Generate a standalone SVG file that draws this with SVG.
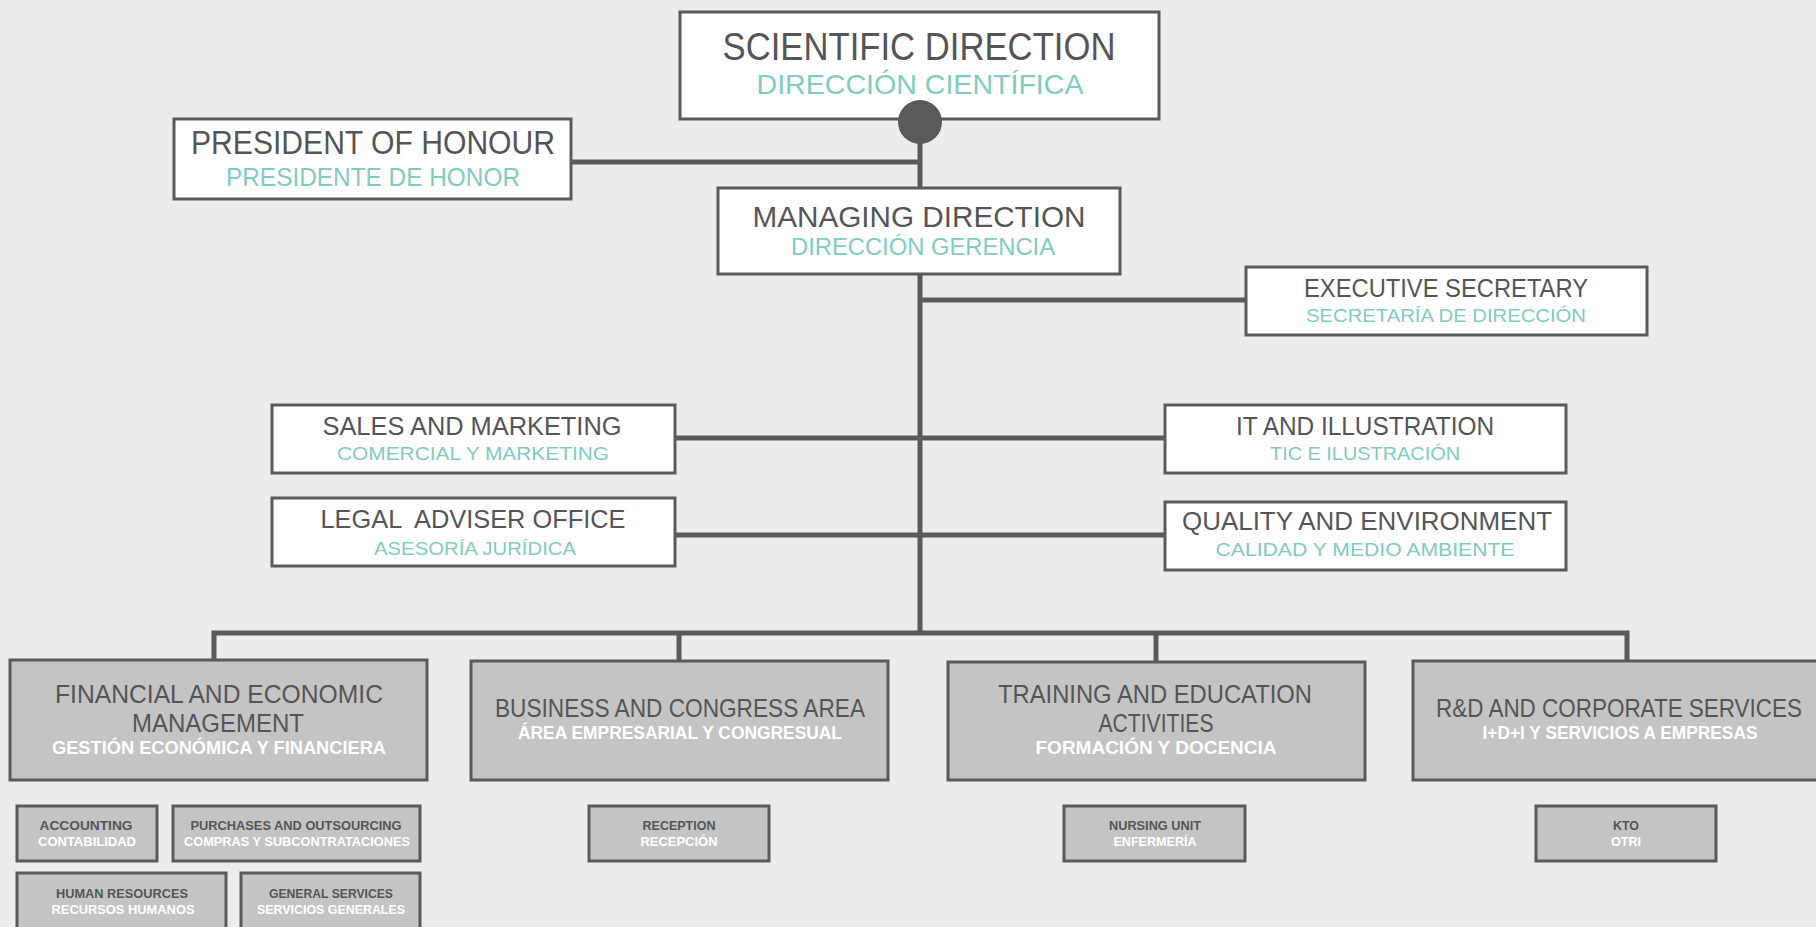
<svg xmlns="http://www.w3.org/2000/svg" width="1816" height="927" viewBox="0 0 1816 927">
<style>
.bg{fill:#ececec}
.wbox{fill:#ffffff;stroke:#5a5a5a;stroke-width:3}
.gbox{fill:#c4c4c4;stroke:#5a5a5a;stroke-width:3}
.con{fill:none;stroke:#5a5a5a;stroke-width:5}
text{font-family:"Liberation Sans",Arial,sans-serif;text-anchor:middle}
.t{fill:#555557}
.s{fill:#80cbc4}
.w{fill:#ffffff}
.b{font-weight:bold}
</style>
<rect class="bg" x="0" y="0" width="1816" height="927"/>
<g id="connectors">
<line class="con" x1="920" y1="120" x2="920" y2="635"/>
<line class="con" x1="571" y1="162" x2="920" y2="162"/>
<line class="con" x1="920" y1="300" x2="1245" y2="300"/>
<line class="con" x1="674" y1="438" x2="1165" y2="438"/>
<line class="con" x1="674" y1="535" x2="1165" y2="535"/>
<polyline class="con" points="214,660 214,633 1627,633 1627,660"/>
<line class="con" x1="679" y1="633" x2="679" y2="661"/>
<line class="con" x1="1156" y1="633" x2="1156" y2="662"/>
</g>
<g id="scientific">
<rect class="wbox" x="680" y="12" width="479" height="107"/>
<text class="t" x="919" y="60" font-size="39" textLength="393" lengthAdjust="spacingAndGlyphs">SCIENTIFIC DIRECTION</text>
<text class="s" x="920" y="94" font-size="28" textLength="327" lengthAdjust="spacingAndGlyphs">DIRECCIÓN CIENTÍFICA</text>
<circle cx="920" cy="122" r="22" fill="#5a5a5a"/>
</g>
<g id="president">
<rect class="wbox" x="174" y="119" width="397" height="80"/>
<text class="t" x="373" y="154" font-size="33" textLength="364" lengthAdjust="spacingAndGlyphs">PRESIDENT OF HONOUR</text>
<text class="s" x="373" y="186" font-size="26" textLength="294" lengthAdjust="spacingAndGlyphs">PRESIDENTE DE HONOR</text>
</g>
<g id="managing">
<rect class="wbox" x="718" y="188" width="402" height="86"/>
<text class="t" x="919" y="227" font-size="30" textLength="333" lengthAdjust="spacingAndGlyphs">MANAGING DIRECTION</text>
<text class="s" x="923" y="255" font-size="23" textLength="264" lengthAdjust="spacingAndGlyphs">DIRECCIÓN GERENCIA</text>
</g>
<g id="executive">
<rect class="wbox" x="1246" y="267" width="401" height="68"/>
<text class="t" x="1446" y="297" font-size="25" textLength="284" lengthAdjust="spacingAndGlyphs">EXECUTIVE SECRETARY</text>
<text class="s" x="1446" y="322" font-size="19" textLength="280" lengthAdjust="spacingAndGlyphs">SECRETARÍA DE DIRECCIÓN</text>
</g>
<g id="sales">
<rect class="wbox" x="272" y="405" width="403" height="68"/>
<text class="t" x="472" y="435" font-size="25" textLength="299" lengthAdjust="spacingAndGlyphs">SALES AND MARKETING</text>
<text class="s" x="473" y="460" font-size="19" textLength="272" lengthAdjust="spacingAndGlyphs">COMERCIAL Y MARKETING</text>
</g>
<g id="it">
<rect class="wbox" x="1165" y="405" width="401" height="68"/>
<text class="t" x="1365" y="435" font-size="25" textLength="258" lengthAdjust="spacingAndGlyphs">IT AND ILLUSTRATION</text>
<text class="s" x="1365" y="460" font-size="19" textLength="190" lengthAdjust="spacingAndGlyphs">TIC E ILUSTRACIÓN</text>
</g>
<g id="legal">
<rect class="wbox" x="272" y="498" width="403" height="68"/>
<text class="t" x="473" y="528" font-size="25" textLength="305" lengthAdjust="spacingAndGlyphs" xml:space="preserve">LEGAL  ADVISER OFFICE</text>
<text class="s" x="475" y="555" font-size="19" textLength="202" lengthAdjust="spacingAndGlyphs">ASESORÍA JURÍDICA</text>
</g>
<g id="quality">
<rect class="wbox" x="1165" y="502" width="401" height="68"/>
<text class="t" x="1367" y="530" font-size="25" textLength="370" lengthAdjust="spacingAndGlyphs">QUALITY AND ENVIRONMENT</text>
<text class="s" x="1365" y="556" font-size="19" textLength="299" lengthAdjust="spacingAndGlyphs">CALIDAD Y MEDIO AMBIENTE</text>
</g>
<g id="financial">
<rect class="gbox" x="10" y="660" width="417" height="120"/>
<text class="t" x="219" y="703" font-size="25" textLength="328" lengthAdjust="spacingAndGlyphs">FINANCIAL AND ECONOMIC</text>
<text class="t" x="218" y="732" font-size="25" textLength="172" lengthAdjust="spacingAndGlyphs">MANAGEMENT</text>
<text class="w b" x="219" y="754" font-size="18" textLength="334" lengthAdjust="spacingAndGlyphs">GESTIÓN ECONÓMICA Y FINANCIERA</text>
</g>
<g id="business">
<rect class="gbox" x="471" y="661" width="417" height="119"/>
<text class="t" x="680" y="717" font-size="25" textLength="370" lengthAdjust="spacingAndGlyphs">BUSINESS AND CONGRESS AREA</text>
<text class="w b" x="680" y="739" font-size="18" textLength="324" lengthAdjust="spacingAndGlyphs">ÁREA EMPRESARIAL Y CONGRESUAL</text>
</g>
<g id="training">
<rect class="gbox" x="948" y="662" width="417" height="118"/>
<text class="t" x="1155" y="703" font-size="25" textLength="314" lengthAdjust="spacingAndGlyphs">TRAINING AND EDUCATION</text>
<text class="t" x="1156" y="732" font-size="25" textLength="115" lengthAdjust="spacingAndGlyphs">ACTIVITIES</text>
<text class="w b" x="1156" y="754" font-size="18" textLength="241" lengthAdjust="spacingAndGlyphs">FORMACIÓN Y DOCENCIA</text>
</g>
<g id="rd">
<rect class="gbox" x="1413" y="661" width="417" height="119"/>
<text class="t" x="1619" y="717" font-size="25" textLength="366" lengthAdjust="spacingAndGlyphs">R&amp;D AND CORPORATE SERVICES</text>
<text class="w b" x="1620" y="739" font-size="18" textLength="275" lengthAdjust="spacingAndGlyphs">I+D+I Y SERVICIOS A EMPRESAS</text>
</g>
<g id="accounting">
<rect class="gbox" x="17" y="806" width="140" height="55"/>
<text class="t b" x="86" y="830" font-size="13" textLength="93" lengthAdjust="spacingAndGlyphs">ACCOUNTING</text>
<text class="w b" x="87" y="846" font-size="13" textLength="98" lengthAdjust="spacingAndGlyphs">CONTABILIDAD</text>
</g>
<g id="purchases">
<rect class="gbox" x="173" y="806" width="247" height="55"/>
<text class="t b" x="296" y="830" font-size="13" textLength="211" lengthAdjust="spacingAndGlyphs">PURCHASES AND OUTSOURCING</text>
<text class="w b" x="297" y="846" font-size="13" textLength="226" lengthAdjust="spacingAndGlyphs">COMPRAS Y SUBCONTRATACIONES</text>
</g>
<g id="hr">
<rect class="gbox" x="17" y="873" width="209" height="60"/>
<text class="t b" x="122" y="898" font-size="13" textLength="132" lengthAdjust="spacingAndGlyphs">HUMAN RESOURCES</text>
<text class="w b" x="123" y="914" font-size="13" textLength="143" lengthAdjust="spacingAndGlyphs">RECURSOS HUMANOS</text>
</g>
<g id="general">
<rect class="gbox" x="241" y="873" width="179" height="60"/>
<text class="t b" x="331" y="898" font-size="13" textLength="124" lengthAdjust="spacingAndGlyphs">GENERAL SERVICES</text>
<text class="w b" x="331" y="914" font-size="13" textLength="148" lengthAdjust="spacingAndGlyphs">SERVICIOS GENERALES</text>
</g>
<g id="reception">
<rect class="gbox" x="589" y="806" width="180" height="55"/>
<text class="t b" x="679" y="830" font-size="13" textLength="73" lengthAdjust="spacingAndGlyphs">RECEPTION</text>
<text class="w b" x="679" y="846" font-size="13" textLength="77" lengthAdjust="spacingAndGlyphs">RECEPCIÓN</text>
</g>
<g id="nursing">
<rect class="gbox" x="1064" y="806" width="181" height="55"/>
<text class="t b" x="1155" y="830" font-size="13" textLength="92" lengthAdjust="spacingAndGlyphs">NURSING UNIT</text>
<text class="w b" x="1155" y="846" font-size="13" textLength="83" lengthAdjust="spacingAndGlyphs">ENFERMERÍA</text>
</g>
<g id="kto">
<rect class="gbox" x="1536" y="806" width="180" height="55"/>
<text class="t b" x="1626" y="830" font-size="13" textLength="26" lengthAdjust="spacingAndGlyphs">KTO</text>
<text class="w b" x="1626" y="846" font-size="13" textLength="30" lengthAdjust="spacingAndGlyphs">OTRI</text>
</g>
</svg>
